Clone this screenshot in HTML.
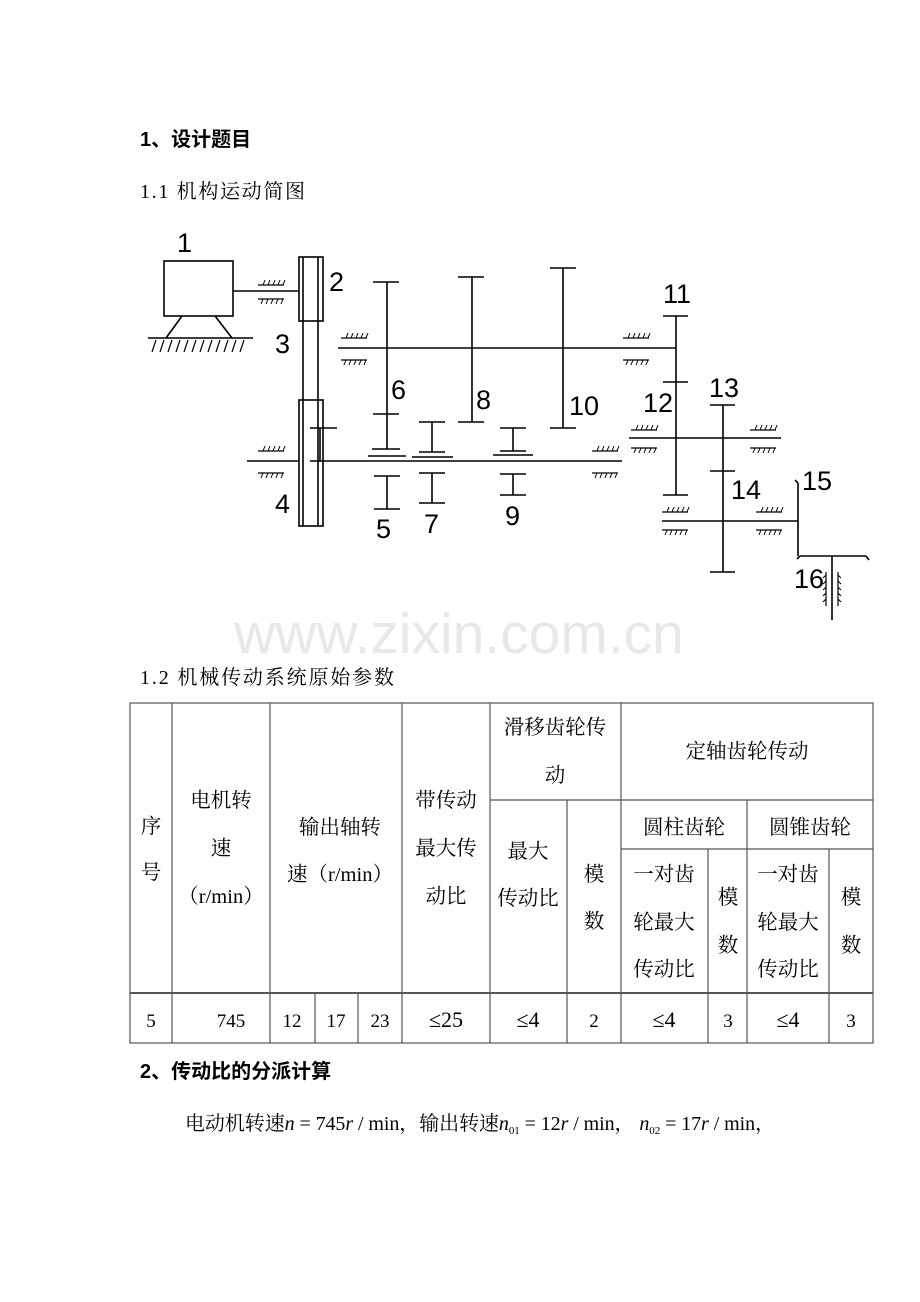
<!DOCTYPE html>
<html><head><meta charset="utf-8"><style>
html,body{margin:0;padding:0;background:#fff;}
svg{display:block}
.s{font-family:"Liberation Serif","Noto Serif CJK SC",serif;fill:#000}
.h{font-family:"Liberation Sans","Noto Sans CJK SC",sans-serif;fill:#000;font-weight:bold}
.n{font-family:"Liberation Sans","DejaVu Sans",sans-serif;fill:#000;font-weight:300}
</style></head><body>
<svg width="920" height="1302" viewBox="0 0 920 1302" xmlns="http://www.w3.org/2000/svg">
<defs>
<g id="bt"><line x1="0" y1="0" x2="26" y2="0" stroke="#000" stroke-width="1.2"/><path d="M5 0l2-5M10 0l2-5M15 0l2-5M20 0l2-5M25 0l2-5" stroke="#000" stroke-width="1"/></g>
<g id="bb"><line x1="0" y1="0" x2="26" y2="0" stroke="#000" stroke-width="1.2"/><path d="M3 5l2-5M8 5l2-5M13 5l2-5M18 5l2-5M23 5l2-5" stroke="#000" stroke-width="1"/></g>
</defs>
<text x="140" y="146" class="h" font-size="20">1、设计题目</text>
<text x="140" y="198" class="s" font-size="20" textLength="165">1.1 机构运动简图</text>

<g stroke="#000" stroke-width="1.6" fill="none">
<rect x="164" y="261" width="69" height="55"/>
<line x1="182" y1="316" x2="166" y2="338"/><line x1="215" y1="316" x2="232" y2="338"/>
<line x1="148" y1="338" x2="253" y2="338"/>
<path d="M152 352l4-12M160 352l4-12M168 352l4-12M176 352l4-12M184 352l4-12M192 352l4-12M200 352l4-12M208 352l4-12M216 352l4-12M224 352l4-12M232 352l4-12M240 352l4-12" stroke-width="1.2"/>
<line x1="233" y1="291" x2="299" y2="291"/>
<rect x="299" y="257" width="24" height="64"/>
<rect x="299" y="400" width="24" height="126"/>
<line x1="303" y1="257" x2="303" y2="526"/><line x1="318" y1="257" x2="318" y2="526"/>
<line x1="338" y1="348" x2="676" y2="348"/>
<line x1="247" y1="461" x2="299" y2="461"/><line x1="310" y1="461" x2="622" y2="461"/>
<line x1="629" y1="438" x2="781" y2="438"/>
<line x1="662" y1="521" x2="798" y2="521"/>
<line x1="320" y1="428" x2="320" y2="461"/><line x1="310" y1="428" x2="337" y2="428"/>
<line x1="387" y1="282" x2="387" y2="449"/><line x1="373" y1="282" x2="399" y2="282"/><line x1="373" y1="414" x2="399" y2="414"/><line x1="372" y1="449" x2="400" y2="449"/><line x1="368" y1="456" x2="406" y2="456"/>
<line x1="387" y1="476" x2="387" y2="509"/><line x1="374" y1="476" x2="400" y2="476"/><line x1="374" y1="509" x2="400" y2="509"/>
<line x1="432" y1="422" x2="432" y2="452"/><line x1="419" y1="422" x2="445" y2="422"/><line x1="419" y1="452" x2="445" y2="452"/><line x1="412" y1="457" x2="453" y2="457"/>
<line x1="432" y1="473" x2="432" y2="503"/><line x1="419" y1="473" x2="445" y2="473"/><line x1="419" y1="503" x2="445" y2="503"/>
<line x1="472" y1="277" x2="472" y2="422"/><line x1="458" y1="277" x2="484" y2="277"/><line x1="458" y1="422" x2="484" y2="422"/>
<line x1="513" y1="428" x2="513" y2="451"/><line x1="500" y1="428" x2="526" y2="428"/><line x1="500" y1="451" x2="526" y2="451"/><line x1="493" y1="455" x2="533" y2="455"/>
<line x1="513" y1="474" x2="513" y2="495"/><line x1="500" y1="474" x2="526" y2="474"/><line x1="500" y1="495" x2="526" y2="495"/>
<line x1="563" y1="268" x2="563" y2="428"/><line x1="550" y1="268" x2="576" y2="268"/><line x1="550" y1="428" x2="576" y2="428"/>
<line x1="676" y1="316" x2="676" y2="495"/><line x1="663" y1="316" x2="688" y2="316"/><line x1="663" y1="382" x2="688" y2="382"/><line x1="663" y1="495" x2="688" y2="495"/>
<line x1="723" y1="405" x2="723" y2="572"/><line x1="710" y1="405" x2="735" y2="405"/><line x1="710" y1="471" x2="735" y2="471"/><line x1="710" y1="572" x2="735" y2="572"/>
<line x1="798" y1="483" x2="798" y2="556"/><line x1="798" y1="483" x2="795" y2="480"/>
<line x1="800" y1="556" x2="866" y2="556"/><line x1="800" y1="556" x2="797" y2="559"/><line x1="866" y1="556" x2="869" y2="560"/>
<line x1="832" y1="556" x2="832" y2="620"/>
<path d="M826 572v34M838 572v34" stroke-width="1.2"/>
<path d="M826 575l-3 3M826 581l-3 3M826 587l-3 3M826 593l-3 3M826 599l-3 3M838 575l3 3M838 581l3 3M838 587l3 3M838 593l3 3M838 599l3 3" stroke-width="1"/>
</g>
<use href="#bt" x="258" y="285"/><use href="#bb" x="258" y="299"/>
<use href="#bt" x="341" y="338"/><use href="#bb" x="341" y="360"/>
<use href="#bt" x="623" y="338"/><use href="#bb" x="623" y="360"/>
<use href="#bt" x="258" y="451"/><use href="#bb" x="258" y="473"/>
<use href="#bt" x="592" y="451"/><use href="#bb" x="592" y="473"/>
<use href="#bt" x="631" y="430"/><use href="#bb" x="631" y="448"/>
<use href="#bt" x="750" y="430"/><use href="#bb" x="750" y="448"/>
<use href="#bt" x="662" y="512"/><use href="#bb" x="662" y="530"/>
<use href="#bt" x="756" y="512"/><use href="#bb" x="756" y="530"/>
<g class="n" font-size="27">
<text x="177" y="252">1</text><text x="329" y="291">2</text><text x="275" y="353">3</text><text x="275" y="513">4</text>
<text x="391" y="399">6</text><text x="476" y="409">8</text><text x="569" y="415">10</text>
<text x="376" y="538">5</text><text x="424" y="533">7</text><text x="505" y="525">9</text>
<text x="663" y="303">11</text><text x="643" y="412">12</text><text x="709" y="397">13</text>
<text x="731" y="499">14</text><text x="802" y="490">15</text><text x="794" y="588">16</text>
</g>
<text x="459" y="653" text-anchor="middle" font-family="Liberation Sans,sans-serif" font-size="57" fill="#e8e8e8">www.zixin.com.cn</text>

<text x="140" y="684" class="s" font-size="20" textLength="254">1.2 机械传动系统原始参数</text>
<g stroke="#555" stroke-width="1.2" fill="none">
<rect x="130" y="703" width="743" height="340"/>
<line x1="130" y1="993" x2="873" y2="993" stroke-width="2"/>
<line x1="172" y1="703" x2="172" y2="1043"/><line x1="270" y1="703" x2="270" y2="1043"/>
<line x1="315" y1="993" x2="315" y2="1043"/><line x1="358" y1="993" x2="358" y2="1043"/>
<line x1="402" y1="703" x2="402" y2="1043"/><line x1="490" y1="703" x2="490" y2="1043"/>
<line x1="567" y1="800" x2="567" y2="1043"/><line x1="621" y1="703" x2="621" y2="1043"/>
<line x1="708" y1="849" x2="708" y2="1043"/><line x1="747" y1="800" x2="747" y2="1043"/>
<line x1="829" y1="849" x2="829" y2="1043"/>
<line x1="490" y1="800" x2="873" y2="800"/><line x1="621" y1="849" x2="873" y2="849"/>
</g>
<g class="s" font-size="20.5" text-anchor="middle">
<text x="151" y="833">序</text><text x="151" y="879">号</text>
<text x="221" y="807">电机转</text><text x="221" y="855">速</text><text x="221" y="903">（r/min）</text>
<text x="340" y="834">输出轴转</text><text x="340" y="881">速（r/min）</text>
<text x="446" y="807">带传动</text><text x="446" y="855">最大传</text><text x="446" y="903">动比</text>
<text x="555" y="734">滑移齿轮传</text><text x="555" y="782">动</text>
<text x="747" y="758">定轴齿轮传动</text>
<text x="528" y="858">最大</text><text x="528" y="905">传动比</text>
<text x="594" y="881">模</text><text x="594" y="928">数</text>
<text x="684" y="834">圆柱齿轮</text><text x="810" y="834">圆锥齿轮</text>
<text x="664" y="881">一对齿</text><text x="664" y="929">轮最大</text><text x="664" y="976">传动比</text>
<text x="728" y="904">模</text><text x="728" y="952">数</text>
<text x="788" y="881">一对齿</text><text x="788" y="929">轮最大</text><text x="788" y="976">传动比</text>
<text x="851" y="904">模</text><text x="851" y="952">数</text>
<text x="151" y="1027" font-size="19">5</text><text x="231" y="1027" font-size="19">745</text>
<text x="292" y="1027" font-size="19">12</text><text x="336" y="1027" font-size="19">17</text><text x="380" y="1027" font-size="19">23</text>
<text x="446" y="1027" font-size="22">≤25</text><text x="528" y="1027" font-size="22">≤4</text><text x="594" y="1027" font-size="19">2</text>
<text x="664" y="1027" font-size="22">≤4</text><text x="728" y="1027" font-size="19">3</text><text x="788" y="1027" font-size="22">≤4</text><text x="851" y="1027" font-size="19">3</text>
</g>
<text x="140" y="1078" class="h" font-size="20">2、传动比的分派计算</text>
<text x="185" y="1130" class="s" font-size="20" textLength="590">电动机转速<tspan font-style="italic">n</tspan> = 745<tspan font-style="italic">r</tspan> / min，输出转速<tspan font-style="italic">n</tspan><tspan font-size="11" dy="4">01</tspan><tspan dy="-4"> = 12</tspan><tspan font-style="italic">r</tspan> / min， <tspan font-style="italic">n</tspan><tspan font-size="11" dy="4">02</tspan><tspan dy="-4"> = 17</tspan><tspan font-style="italic">r</tspan> / min，</text>
</svg>
</body></html>
